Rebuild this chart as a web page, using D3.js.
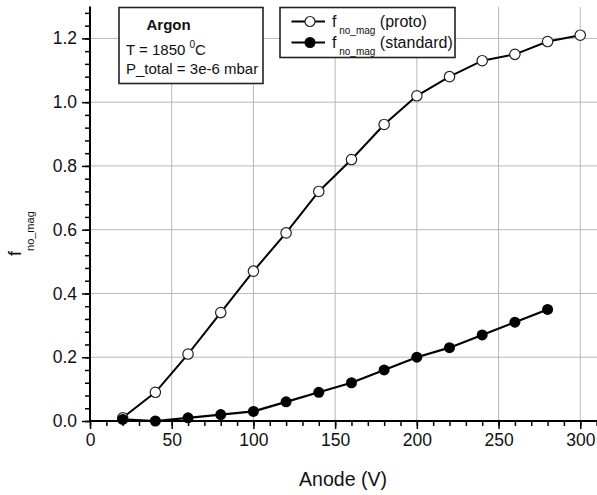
<!DOCTYPE html>
<html><head><meta charset="utf-8">
<script src="https://cdn.jsdelivr.net/npm/d3@7"></script>
<style>
html,body{margin:0;padding:0;background:#fff;}
svg{display:block;font-family:"Liberation Sans",Arial,sans-serif;}
</style></head>
<body>
<svg id="c" width="597" height="495"></svg>
<script>
// ---- data ----
const anode = [20,40,60,80,100,120,140,160,180,200,220,240,260,280,300];
const proto = [0.01,0.09,0.21,0.34,0.47,0.59,0.72,0.82,0.93,1.02,1.08,1.13,1.15,1.19,1.21];
const anodeStd = [20,40,60,80,100,120,140,160,180,200,220,240,260,280];
const standard = [0.005,0.0,0.01,0.02,0.03,0.06,0.09,0.12,0.16,0.20,0.23,0.27,0.31,0.35];
const xTicks = [0,50,100,150,200,250,300];
const yTicks = [0,0.2,0.4,0.6,0.8,1.0,1.2];
const xLabel = "Anode (V)";
const infoLines = ["Argon","T = 1850 ","P_total = 3e-6 mbar"];
const legendLabels = ["(proto)","(standard)"];

const svg = d3.select("#c");
const x = d3.scaleLinear().domain([0,310]).range([90,596.6]);
const y = d3.scaleLinear().domain([0,1.3]).range([421,6.5]);

// grid
const grid = svg.append("g").attr("stroke","#b8b8b8").attr("stroke-width",1);
xTicks.filter(d=>d>0).forEach(d=>{
  grid.append("line").attr("x1",x(d)).attr("x2",x(d)).attr("y1",y(0)).attr("y2",7);
});
yTicks.filter(d=>d>0).forEach(d=>{
  grid.append("line").attr("x1",x(0)).attr("x2",597).attr("y1",y(d)).attr("y2",y(d));
});

// axes
const xMinor = d3.range(0,311,10);
const yMinor = d3.range(0,1.29,0.04);
const gx = svg.append("g").attr("transform",`translate(0,${y(0)})`);
gx.call(d3.axisBottom(x).tickValues(xMinor).tickSize(5).tickFormat(""));
const gx2 = svg.append("g").attr("transform",`translate(0,${y(0)})`);
gx2.call(d3.axisBottom(x).tickValues(xTicks).tickSize(8).tickPadding(5).tickFormat(d3.format("d")));
const gy = svg.append("g").attr("transform",`translate(${x(0)},0)`);
gy.call(d3.axisLeft(y).tickValues(yMinor).tickSize(5).tickFormat(""));
const gy2 = svg.append("g").attr("transform",`translate(${x(0)},0)`);
gy2.call(d3.axisLeft(y).tickValues(yTicks).tickSize(8).tickPadding(5).tickFormat(d3.format(".1f")));
[gx,gx2,gy,gy2].forEach(g=>{
  g.selectAll("path.domain").attr("stroke","#000").attr("stroke-width",2);
  g.selectAll(".tick line").attr("stroke","#000").attr("stroke-width",1.5);
  g.selectAll(".tick text").attr("fill","#111").style("font-size","17.5px").style("font-family","'Liberation Sans',Arial,sans-serif");
});
gx.select("path.domain").attr("d",`M${x(0)},0H597`);
gy.select("path.domain").attr("d",`M0,${y(1.3)}V${y(0)+1}`);
gx2.select("path.domain").remove();
gy2.select("path.domain").remove();

// lines
const line = d3.line().x(d=>x(d[0])).y(d=>y(d[1]));
const pData = anode.map((a,i)=>[a,proto[i]]);
const sData = anodeStd.map((a,i)=>[a,standard[i]]);
svg.append("path").datum(pData).attr("d",line).attr("fill","none").attr("stroke","#000").attr("stroke-width",2);
svg.append("path").datum(sData).attr("d",line).attr("fill","none").attr("stroke","#000").attr("stroke-width",2.2);
svg.append("g").selectAll("circle").data(pData).join("circle")
  .attr("cx",d=>x(d[0])).attr("cy",d=>y(d[1])).attr("r",5.2)
  .attr("fill","#fff").attr("stroke","#222").attr("stroke-width",1.2);
svg.append("g").selectAll("circle").data(sData).join("circle")
  .attr("cx",d=>x(d[0])).attr("cy",d=>y(d[1])).attr("r",5.5)
  .attr("fill","#000");

// info box
svg.append("rect").attr("x",119).attr("y",7.5).attr("width",144).attr("height",76)
  .attr("fill","#fff").attr("stroke","#222").attr("stroke-width",1.6);
svg.append("text").attr("x",146.5).attr("y",29.5).style("font-size","15px").style("font-weight","bold").attr("fill","#111").text(infoLines[0]);
const t2 = svg.append("text").attr("x",126).attr("y",54.5).style("font-size","15px").attr("fill","#111");
t2.append("tspan").text(infoLines[1]);
t2.append("tspan").attr("dy",-7).style("font-size","10px").text("0");
t2.append("tspan").attr("dy",7).text("C");
svg.append("text").attr("x",126).attr("y",74).style("font-size","15px").attr("fill","#111").text(infoLines[2]);

// legend
svg.append("rect").attr("x",280).attr("y",7.5).attr("width",175).attr("height",50)
  .attr("fill","#fff").attr("stroke","#222").attr("stroke-width",1.6);
[0,1].forEach(i=>{
  const ly = i===0 ? 21.5 : 42.5;
  svg.append("line").attr("x1",291.5).attr("x2",325).attr("y1",ly).attr("y2",ly).attr("stroke","#000").attr("stroke-width",2);
  if(i===0){
    svg.append("circle").attr("cx",310).attr("cy",ly).attr("r",5).attr("fill","#fff").attr("stroke","#222").attr("stroke-width",1.2);
  } else {
    svg.append("circle").attr("cx",310).attr("cy",ly).attr("r",5.5).attr("fill","#000");
  }
  const t = svg.append("text").attr("x",332).attr("y",ly+5.5).style("font-size","16px").attr("fill","#111");
  t.append("tspan").text("f");
  t.append("tspan").attr("dy",7).style("font-size","10px").text(" no_mag");
  t.append("tspan").attr("dy",-7).text(" "+legendLabels[i]);
});

// axis titles
svg.append("text").attr("x",343).attr("y",486).attr("text-anchor","middle").style("font-size","19.5px").attr("fill","#111").text(xLabel);
const yt = svg.append("text").attr("transform","translate(21,256) rotate(-90)").style("font-size","18px").attr("fill","#111");
yt.append("tspan").text("f");
yt.append("tspan").attr("dy",13).style("font-size","11px").text("no_mag");
</script>
</body></html>
